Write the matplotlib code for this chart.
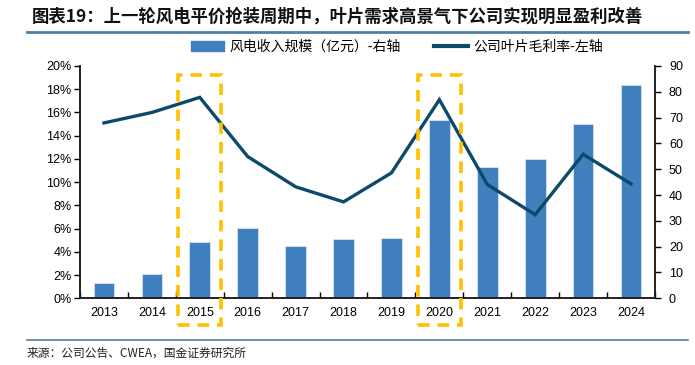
import matplotlib.pyplot as plt
import matplotlib.transforms as mtransforms
from matplotlib.patches import Rectangle
from matplotlib.lines import Line2D
import numpy as np

plt.rcParams['font.family'] = ['Liberation Sans', 'Noto Sans CJK SC', 'DejaVu Sans']

years = ['2013', '2014', '2015', '2016', '2017', '2018', '2019', '2020', '2021', '2022', '2023', '2024']
revenue = [5.8, 9.3, 22.0, 27.2, 20.2, 23.0, 23.4, 68.9, 51.0, 53.9, 67.5, 82.5]
margin = [15.1, 16.0, 17.3, 12.2, 9.6, 8.3, 10.8, 17.1, 9.8, 7.2, 12.4, 9.85]
highlight = ['2015', '2020']

title = '图表19：上一轮风电平价抢装周期中，叶片需求高景气下公司实现明显盈利改善'
bar_label = '风电收入规模（亿元）-右轴'
line_label = '公司叶片毛利率-左轴'
source = '来源：公司公告、CWEA，国金证券研究所'

bar_color = '#4080BF'
line_color = '#0B4A6B'
box_color = '#FFC000'
rule_color = '#4F819F'
cjk = ['Noto Sans CJK SC', 'DejaVu Sans']

fig = plt.figure(figsize=(6.95, 3.65), dpi=100)
ax = fig.add_axes([80 / 695, 1 - 298.3 / 365, 575 / 695, 232.3 / 365])
ax2 = ax.twinx()

x = np.arange(len(years))
ax2.bar(x, revenue, width=0.43, color=bar_color, edgecolor='#D6E4F2', linewidth=0.6, zorder=1)
ax2.set_ylim(0, 90)
ax2.set_yticks(range(0, 91, 10))

ax.plot(x, margin, color=line_color, linewidth=2.4, zorder=5, solid_joinstyle='miter')
ax.set_ylim(0, 20)
ax.set_yticks(range(0, 21, 2))
ax.set_yticklabels([f'{v}%' for v in range(0, 21, 2)])
ax.set_xlim(-0.5, len(years) - 0.5)
ax.set_xticks(x)
ax.set_xticklabels(years)
ax.set_xticks(np.arange(-0.5, len(years)), minor=True)
ax.tick_params(axis='x', which='major', length=0, pad=6, labelsize=9)
ax.tick_params(axis='x', which='minor', length=4, direction='in', width=1)
ax.tick_params(axis='y', length=4, direction='out', width=1, labelsize=9, pad=2)
ax2.tick_params(axis='y', length=4, direction='out', width=1, labelsize=9, pad=6)

# line above bars
ax.set_zorder(ax2.get_zorder() + 1)
ax.patch.set_visible(False)

for a in (ax, ax2):
    a.spines['top'].set_visible(False)
    for s in ('left', 'right', 'bottom'):
        a.spines[s].set_linewidth(1.2)
        a.spines[s].set_color('#222222')

trans = mtransforms.blended_transform_factory(ax.transData, ax.transAxes)
for yr in highlight:
    i = years.index(yr)
    rect = Rectangle((i - 0.45, -0.115), 0.9, 0.115 + 0.96, transform=trans,
                     fill=False, edgecolor=box_color, linewidth=2.6,
                     linestyle=(0, (3.2, 2.2)), clip_on=False, zorder=10)
    ax.add_patch(rect)

fig.text(32 / 695, 1 - 17 / 365, title, family=cjk, fontsize=12.5, fontweight='bold',
         style='italic', va='center', ha='left', color='#111111')
fig.add_artist(Line2D([27 / 695, 688 / 695], [1 - 32 / 365] * 2, color=rule_color, linewidth=2))
fig.add_artist(Line2D([27 / 695, 688 / 695], [1 - 340 / 365] * 2, color=rule_color, linewidth=1.2))
fig.text(27 / 695, 1 - 353 / 365, source, family=cjk, fontsize=8.5, va='center', ha='left', color='#222222')

handles = [Rectangle((0, 0), 1, 1, color=bar_color), Line2D([0], [0], color=line_color, linewidth=3)]
fig.legend(handles, [bar_label, line_label], loc='center', bbox_to_anchor=(397 / 695, 1 - 47 / 365),
           ncol=2, frameon=False, prop={'family': cjk, 'size': 10}, handlelength=2.4,
           handleheight=0.8, columnspacing=2.4, handletextpad=0.4)

fig.savefig('out.png', dpi=100)
